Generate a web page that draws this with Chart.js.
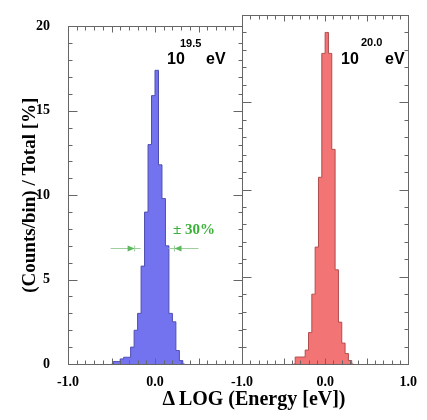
<!DOCTYPE html>
<html><head><meta charset="utf-8">
<script src="https://cdn.jsdelivr.net/npm/chart.js@4.4.1/dist/chart.umd.min.js"></script>
<style>
html,body{margin:0;padding:0;background:#fff;}
#wrap{position:relative;width:427px;height:420px;overflow:hidden;background:#fff;}
canvas{position:absolute;left:0;top:0;}
.t{position:absolute;white-space:nowrap;color:#000;font-weight:bold;line-height:1;}
.s{font-family:"Liberation Sans",Arial,sans-serif;}
.r{font-family:"Liberation Serif","Times New Roman",serif;}
</style></head><body>
<div id="wrap">
<canvas id="c1" width="427" height="420"></canvas>
<canvas id="c2" width="427" height="420"></canvas>
<div class="t s" style="left:167px;top:51px;font-size:16px;">10</div>
<div class="t s" style="left:180px;top:38px;font-size:11px;">19.5</div>
<div class="t s" style="left:206px;top:51px;font-size:16px;">eV</div>
<div class="t s" style="left:341px;top:51px;font-size:16px;">10</div>
<div class="t s" style="left:361px;top:37px;font-size:11px;">20.0</div>
<div class="t s" style="left:385px;top:51px;font-size:16px;">eV</div>
<div class="t r" style="left:173px;top:222px;font-size:15px;color:#38b038;">± 30%</div>
<div class="t r" style="left:104px;width:300px;text-align:center;top:388px;font-size:20px;">Δ LOG (Energy [eV])</div>
</div>
<script>
// ---- data ----
const blueCenters = [-0.50,-0.46,-0.42,-0.38,-0.34,-0.30,-0.26,-0.22,-0.18,-0.14,-0.10,-0.06,-0.02,0.02,0.06,0.10,0.14,0.18,0.22,0.26,0.30,0.34];
const blueValues  = [0,0.15,0.15,0.3,0.4,0.4,1.0,2.0,3.0,5.8,9.0,13.0,15.9,17.4,11.8,9.8,7.0,3.0,2.5,0.8,0.2,0];
const redCenters  = [-0.38,-0.34,-0.30,-0.26,-0.22,-0.18,-0.14,-0.10,-0.06,-0.02,0.02,0.06,0.10,0.14,0.18,0.22,0.26,0.30,0.34];
const redValues   = [0,0.4,0.4,0.4,0.8,1.8,4.0,6.7,10.7,17.8,19.0,17.8,12.3,5.4,2.4,1.2,0.6,0.2,0];
const yTickValues = [0,5,10,15,20];
const leftXLabels = [-1,0];
const rightXLabels = [-1,0,1];
const fwhmLevel = 6.9;
const fwhmLeft = [-0.51,-0.165];
const fwhmRight = [0.50,0.155];

const FONT = '"Liberation Serif","Times New Roman",serif';

const framePlugin = {
  id: 'frame',
  afterDatasetsDraw(chart, args, opts) {
    const {ctx, chartArea: a, scales: {x, y}} = chart;
    ctx.save();
    ctx.strokeStyle = '#666';
    ctx.lineWidth = 1;
    const L = Math.round(a.left) + 0.5, R = Math.round(a.right) + 0.5;
    const T = Math.round(a.top) + 0.5, B = Math.round(a.bottom) + 0.5;
    ctx.strokeRect(L, T, R - L, B - T);
    ctx.beginPath();
    for (let v = 0; v <= 20; v++) {
      const py = Math.round(y.getPixelForValue(v)) + 0.5;
      const len = v % 5 === 0 ? 9 : 4;
      ctx.moveTo(L, py); ctx.lineTo(L + len, py);
      ctx.moveTo(R - len, py); ctx.lineTo(R, py);
    }
    for (let k = -10; k <= 10; k++) {
      const px = Math.round(x.getPixelForValue(k / 10)) + 0.5;
      const len = k % 5 === 0 ? 6 : 4;
      ctx.moveTo(px, B); ctx.lineTo(px, B - len);
      ctx.moveTo(px, T); ctx.lineTo(px, T + len);
    }
    ctx.stroke();
    if (opts.fwhm) {
      const py = Math.round(y.getPixelForValue(fwhmLevel)) + 0.5;
      ctx.strokeStyle = '#9ccf9c';
      ctx.fillStyle = '#5cb85c';
      [fwhmLeft, fwhmRight].forEach(([from, to]) => {
        const x0 = x.getPixelForValue(from), x1 = x.getPixelForValue(to);
        const dir = Math.sign(x1 - x0);
        ctx.beginPath(); ctx.moveTo(x0, py); ctx.lineTo(x1, py); ctx.stroke();
        const tip = x1 - dir * 6;
        ctx.beginPath();
        ctx.moveTo(tip, py); ctx.lineTo(tip - dir * 7, py - 3); ctx.lineTo(tip - dir * 7, py + 3);
        ctx.closePath(); ctx.fill();
        ctx.beginPath(); ctx.moveTo(tip, py - 3); ctx.lineTo(tip, py + 3); ctx.stroke();
      });
    }
    ctx.restore();
  }
};

function makeChart(id, centers, values, fill, line, labels, isLeft) {
  return new Chart(document.getElementById(id), {
    type: 'line',
    data: {
      datasets: [{
        data: centers.map((c, i) => ({x: c, y: values[i]})),
        stepped: 'middle',
        fill: 'origin',
        backgroundColor: fill,
        borderColor: line,
        borderWidth: 1,
        pointRadius: 0
      }]
    },
    options: {
      responsive: false,
      animation: false,
      layout: {padding: isLeft ? {left: 0, right: 185, top: 15, bottom: 0} : {left: 242, right: 10, top: 15, bottom: 0}},
      plugins: {legend: {display: false}, tooltip: {enabled: false}, frame: {fwhm: isLeft}},
      scales: {
        x: {
          type: 'linear', min: -1, max: 1,
          grid: {display: false, drawTicks: false},
          border: {display: false},
          afterBuildTicks: s => { s.ticks = labels.map(v => ({value: v})); },
          ticks: {
            callback: v => v.toFixed(1),
            font: {family: FONT, weight: 'bold', size: 14},
            color: '#000', padding: 10, maxRotation: 0, autoSkip: false
          },
          afterFit: s => { s.height = 56; }
        },
        y: {
          display: isLeft,
          min: 0, max: 20,
          grid: {display: false, drawTicks: false},
          border: {display: false},
          afterBuildTicks: s => { s.ticks = yTickValues.map(v => ({value: v})); },
          ticks: {font: {family: FONT, weight: 'bold', size: 14}, color: '#000', padding: 18},
          title: {display: true, text: '(Counts/bin) / Total [%]', color: '#000',
                  font: {family: FONT, weight: 'bold', size: 19}, padding: {top: 19, bottom: 0}},
          afterFit: s => { if (isLeft) s.width = 68; }
        }
      }
    },
    plugins: [framePlugin]
  });
}

makeChart('c1', blueCenters, blueValues, '#7373f0', '#4d4db0', leftXLabels, true);
makeChart('c2', redCenters, redValues, '#f27474', '#b04d4d', rightXLabels, false);
</script>
</body></html>
